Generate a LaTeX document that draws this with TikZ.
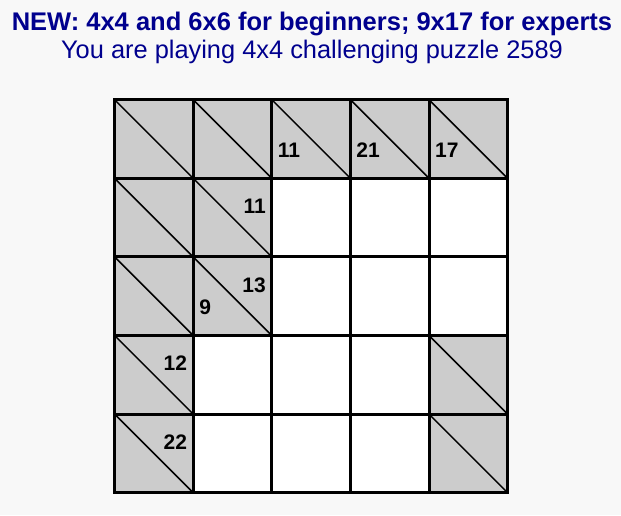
\documentclass[tikz,border=0pt]{standalone}
\usepackage{fontspec}
\setmainfont{Liberation Sans}
\usetikzlibrary{positioning}
\definecolor{pagebg}{HTML}{F8F8F8}
\definecolor{cellgray}{HTML}{CCCCCC}
\definecolor{headblue}{HTML}{00008E}
\tikzstyle{headline} = [font=\fontsize{25.5}{30}\selectfont\bfseries, text=headblue, anchor=base, inner sep=0pt]
\tikzstyle{infoline} = [font=\fontsize{25.4}{30}\selectfont, text=headblue, anchor=base, inner sep=0pt]
\tikzstyle{downclue} = [font=\fontsize{21}{25}\selectfont\bfseries, anchor=base west, inner sep=0pt]
\tikzstyle{acrossclue} = [font=\fontsize{21}{25}\selectfont\bfseries, anchor=base east, inner sep=0pt]
\tikzstyle{gridline} = [line width=3pt, line cap=rect]
\tikzstyle{diagline} = [line width=1.5pt]

\begin{document}
\begin{tikzpicture}[x=1pt,y=-1pt]
\fill[pagebg] (0,0) rectangle (621,515);
\useasboundingbox (0,0) rectangle (621,515);
\node (head) [headline] at (312,30) {NEW: 4x4 and 6x6 for beginners; 9x17 for experts};
\node (info) [infoline] at (312,58) {You are playing 4x4 challenging puzzle 2589};

\begin{scope}[shift={(114.6,99.7)}, x=78.6pt, y=-78.6pt]
\fill[white] (0,0) rectangle (5,5);
\foreach \c/\r in {0/0,1/0,2/0,3/0,4/0,0/1,1/1,0/2,1/2,0/3,4/3,0/4,4/4} {
  \fill[cellgray] (\c,\r) rectangle ++(1,1);
  \draw[diagline] (\c,\r) -- ++(1,1);
}
\foreach \i in {0,...,5} {
  \draw[gridline] (\i,0) -- (\i,5);
  \draw[gridline] (0,\i) -- (5,\i);
}
\node (down2) [downclue] at (2.075,0.73) {11};
\node (down3) [downclue] at (3.075,0.73) {21};
\node (down4) [downclue] at (4.075,0.73) {17};
\node (across1) [acrossclue] at (1.925,1.45) {11};
\node (across2) [acrossclue] at (1.925,2.45) {13};
\node (down1) [downclue] at (1.075,2.735) {9};
\node (across3) [acrossclue] at (0.925,3.45) {12};
\node (across4) [acrossclue] at (0.925,4.45) {22};
\end{scope}
\end{tikzpicture}
\end{document}
